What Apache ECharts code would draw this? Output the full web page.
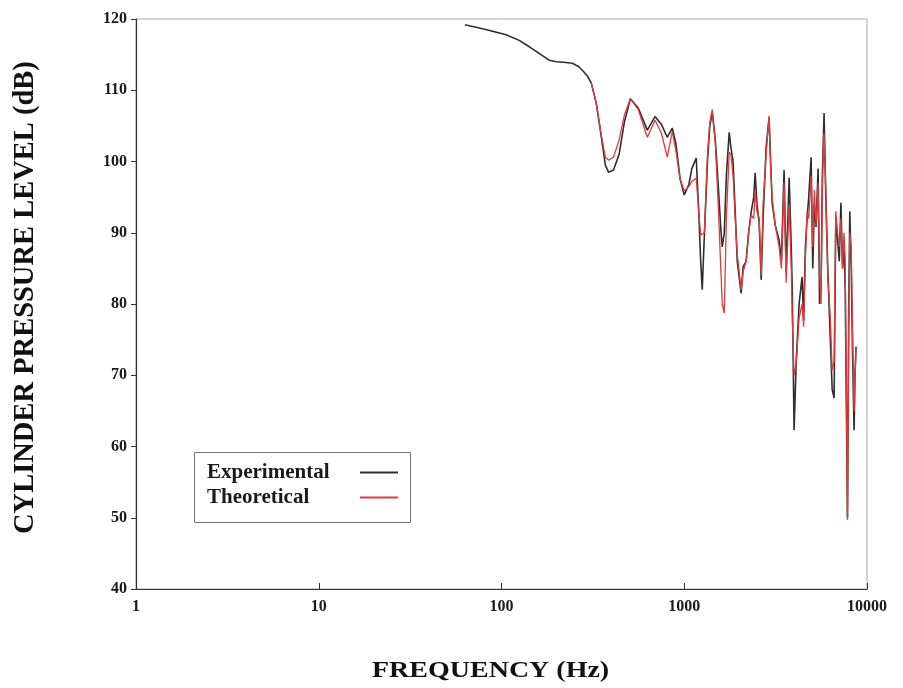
<!DOCTYPE html>
<html>
<head>
<meta charset="utf-8">
<script src="https://cdn.jsdelivr.net/npm/echarts@6/dist/echarts.min.js"></script>
<style>
html,body{margin:0;padding:0;background:#fff;}
#chart{width:903px;height:688px;}
</style>
</head>
<body>
<div id="chart"></div>
<script>
// Frequency (Hz), shared by both series
const freqHz = [63, 80, 106, 125, 142, 160, 183, 200, 225, 244, 265, 277, 295, 310, 330, 352, 370, 385, 410, 440, 470, 507, 560, 628, 692, 750, 807, 860, 900, 950, 1000, 1060, 1100, 1163, 1200, 1230, 1254, 1290, 1340, 1380, 1423, 1480, 1540, 1590, 1614, 1656, 1700, 1762, 1800, 1850, 1900, 1950, 2048, 2100, 2180, 2250, 2323, 2400, 2443, 2500, 2570, 2636, 2700, 2806, 2912, 2970, 3027, 3150, 3304, 3400, 3518, 3610, 3750, 3850, 3900, 3990, 4100, 4250, 4413, 4500, 4600, 4700, 4800, 4946, 5050, 5150, 5263, 5400, 5500, 5605, 5700, 5821, 5950, 6100, 6300, 6450, 6607, 6750, 6900, 7050, 7200, 7350, 7484, 7600, 7820, 7950, 8050, 8200, 8350, 8500, 8600, 8710];
// Experimental cylinder pressure level (dB)
const experimental = [119.2, 118.6, 117.8, 117.0, 116.1, 115.2, 114.2, 114.0, 113.9, 113.8, 113.3, 112.8, 112.0, 111.0, 108.2, 103.4, 99.5, 98.5, 98.8, 101.0, 105.5, 108.8, 107.5, 104.4, 106.3, 105.2, 103.4, 104.7, 102.5, 97.5, 95.3, 96.8, 99.0, 100.5, 93.0, 86.0, 82.0, 90.0, 100.0, 105.0, 106.9, 103.0, 96.0, 90.0, 88.0, 90.0, 98.0, 104.1, 102.0, 100.0, 93.0, 86.0, 81.5, 85.2, 86.0, 90.0, 92.9, 95.0, 98.4, 94.0, 91.4, 83.4, 92.0, 102.0, 106.2, 100.0, 94.2, 91.0, 89.0, 86.0, 98.8, 84.5, 97.7, 88.0, 82.0, 62.3, 72.0, 80.0, 83.8, 77.7, 88.0, 92.0, 95.0, 100.6, 85.0, 94.0, 90.8, 99.0, 80.0, 82.4, 98.0, 106.8, 95.0, 85.0, 75.0, 68.0, 66.8, 92.2, 92.0, 86.0, 94.2, 85.0, 89.0, 82.0, 50.0, 80.0, 93.0, 85.0, 72.0, 62.3, 70.0, 74.0];
// Theoretical cylinder pressure level (dB)
const theoretical = [null, null, null, null, null, null, null, null, null, null, null, null, null, 111.0, 108.2, 103.6, 100.6, 100.2, 100.6, 103.0, 106.5, 108.8, 107.3, 103.4, 105.8, 104.0, 100.6, 104.2, 101.5, 97.5, 95.9, 96.5, 97.2, 97.7, 93.0, 89.7, 89.7, 90.0, 101.0, 105.5, 107.3, 102.5, 93.0, 84.0, 80.0, 78.7, 92.0, 101.3, 101.0, 98.0, 92.0, 87.0, 82.0, 84.5, 86.0, 90.0, 92.5, 92.0, 96.0, 93.0, 92.0, 84.0, 94.0, 101.0, 106.4, 99.0, 95.0, 91.0, 88.0, 85.0, 97.0, 83.0, 94.0, 85.0, 78.0, 70.0, 71.7, 78.0, 80.0, 76.8, 86.0, 93.0, 92.0, 98.0, 88.0, 96.0, 91.0, 97.0, 84.0, 80.0, 97.0, 104.0, 96.0, 84.0, 78.0, 70.7, 72.0, 93.0, 90.0, 88.0, 92.0, 85.0, 90.0, 86.0, 49.7, 78.0, 90.0, 88.0, 75.0, 65.0, 70.0, 74.0];
const yTicks = [40, 50, 60, 70, 80, 90, 100, 110, 120];
const xTickLabels = ['1', '10', '100', '1000', '10000'];
const seriesNames = ['Experimental', 'Theoretical'];

const SERIF = '"Liberation Serif", "DejaVu Serif", serif';
const LEGEND_FONT_SIZE = 21;
const expData = freqHz.map((f, i) => [f, experimental[i]]);
const theoData = freqHz.map((f, i) => [f, theoretical[i]]);

// measure legend texts so icons line up on the right
const mctx = document.createElement('canvas').getContext('2d');
mctx.font = 'bold ' + LEGEND_FONT_SIZE + 'px ' + SERIF;
const legendData = seriesNames.map(n => ({
  name: n,
  textStyle: {padding: [0, Math.max(0, 148 - mctx.measureText(n).width), 0, 0]}
}));

const chart = echarts.init(document.getElementById('chart'), null, {renderer: 'canvas'});
chart.setOption({
  animation: false,
  backgroundColor: '#fff',
  grid: {left: 136, right: 36, top: 19, bottom: 99, show: true, borderColor: '#a8a8a8', borderWidth: 1},
  xAxis: {
    type: 'log', logBase: 10, min: 1, max: 10000,
    axisLine: {show: true, onZero: false, lineStyle: {color: '#333', width: 1.2}},
    axisTick: {show: true, inside: true, length: 6, lineStyle: {color: '#333'}},
    minorTick: {show: false},
    splitLine: {show: false},
    axisLabel: {
      margin: 10, color: '#1a1a1a', fontFamily: SERIF, fontWeight: 'bold', fontSize: 16,
      formatter: v => { const i = xTickLabels.indexOf(String(Math.round(v))); return i >= 0 ? xTickLabels[i] : ''; }
    }
  },
  yAxis: {
    type: 'value', min: yTicks[0], max: yTicks[yTicks.length - 1], interval: 10,
    axisLine: {show: true, lineStyle: {color: '#333', width: 1.2}},
    axisTick: {show: true, inside: false, length: 5, lineStyle: {color: '#333'}},
    splitLine: {show: false},
    axisLabel: {margin: 9, color: '#1a1a1a', fontFamily: SERIF, fontWeight: 'bold', fontSize: 16}
  },
  legend: {
    orient: 'vertical', left: 207, top: 462, align: 'right', padding: 0,
    itemWidth: 38, itemHeight: 2, itemGap: 4, icon: 'rect',
    data: legendData,
    textStyle: {fontFamily: SERIF, fontWeight: 'bold', fontSize: LEGEND_FONT_SIZE, color: '#1a1a1a'}
  },
  graphic: [
    {type: 'rect', left: 192, top: 450, shape: {width: 216, height: 70}, style: {fill: 'none', stroke: '#777', lineWidth: 1}, z: 1},
    {type: 'text', x: 372, y: 682, scaleY: 0.8,
     style: {text: 'FREQUENCY (Hz)', font: 'bold 28px ' + SERIF, fill: '#111', verticalAlign: 'bottom', textVerticalAlign: 'bottom'}},
    {type: 'text', x: 11, y: 534, rotation: Math.PI / 2,
     style: {text: 'CYLINDER PRESSURE LEVEL (dB)', font: 'bold 28.5px ' + SERIF, fill: '#111', align: 'left', textAlign: 'left', verticalAlign: 'top', textVerticalAlign: 'top'}}
  ],
  series: [
    {name: seriesNames[0], type: 'line', data: expData, showSymbol: false, symbol: 'none',
     lineStyle: {color: '#2e2e2e', width: 1.6}, itemStyle: {color: '#2e2e2e'}, z: 2},
    {name: seriesNames[1], type: 'line', data: theoData, showSymbol: false, symbol: 'none',
     lineStyle: {color: '#e23a3a', width: 1.3}, itemStyle: {color: '#e23a3a'}, z: 3}
  ]
});
</script>
</body>
</html>
